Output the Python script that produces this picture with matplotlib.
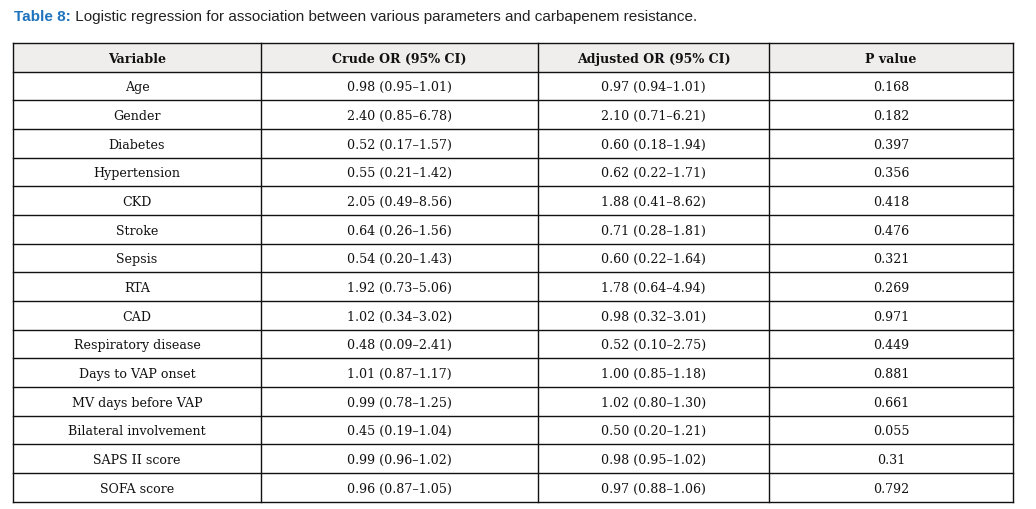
import matplotlib
matplotlib.use("Agg")
import matplotlib.pyplot as plt

title_bold = "Table 8:"
title_rest = " Logistic regression for association between various parameters and carbapenem resistance."

headers = ["Variable", "Crude OR (95% CI)", "Adjusted OR (95% CI)", "P value"]
variables = ["Age", "Gender", "Diabetes", "Hypertension", "CKD", "Stroke", "Sepsis", "RTA", "CAD",
             "Respiratory disease", "Days to VAP onset", "MV days before VAP", "Bilateral involvement",
             "SAPS II score", "SOFA score"]
crude_or = ["0.98 (0.95–1.01)", "2.40 (0.85–6.78)", "0.52 (0.17–1.57)", "0.55 (0.21–1.42)",
            "2.05 (0.49–8.56)", "0.64 (0.26–1.56)", "0.54 (0.20–1.43)", "1.92 (0.73–5.06)",
            "1.02 (0.34–3.02)", "0.48 (0.09–2.41)", "1.01 (0.87–1.17)", "0.99 (0.78–1.25)",
            "0.45 (0.19–1.04)", "0.99 (0.96–1.02)", "0.96 (0.87–1.05)"]
adjusted_or = ["0.97 (0.94–1.01)", "2.10 (0.71–6.21)", "0.60 (0.18–1.94)", "0.62 (0.22–1.71)",
               "1.88 (0.41–8.62)", "0.71 (0.28–1.81)", "0.60 (0.22–1.64)", "1.78 (0.64–4.94)",
               "0.98 (0.32–3.01)", "0.52 (0.10–2.75)", "1.00 (0.85–1.18)", "1.02 (0.80–1.30)",
               "0.50 (0.20–1.21)", "0.98 (0.95–1.02)", "0.97 (0.88–1.06)"]
p_values = ["0.168", "0.182", "0.397", "0.356", "0.418", "0.476", "0.321", "0.269", "0.971",
            "0.449", "0.881", "0.661", "0.055", "0.31", "0.792"]

W, H = 1036, 510
fig = plt.figure(figsize=(W / 100, H / 100), dpi=100)
ax = fig.add_axes([0, 0, 1, 1])
ax.set_xlim(0, W)
ax.set_ylim(H, 0)
ax.axis("off")

# title
serif = ["DejaVu Serif"]
tfs = 10.95
t1 = ax.text(14, 17, title_bold, fontsize=tfs, fontweight="bold", color="#1e73be",
             family="Liberation Sans", va="center", ha="left")
fig.canvas.draw()
bb = t1.get_window_extent()
x_end = bb.x1
ax.text(x_end, 17, title_rest, fontsize=tfs, color="#222222", family="Liberation Sans",
        va="center", ha="left", transform=matplotlib.transforms.blended_transform_factory(
            matplotlib.transforms.IdentityTransform(), ax.transData))

col_x = [13, 261, 538, 769, 1013]
top = 44
header_h = 28.5
row_h = 28.67
n = len(variables)
row_edges = [top, top + header_h] + [top + header_h + row_h * (i + 1) for i in range(n)]
bottom = row_edges[-1]

# header background
ax.fill_between([col_x[0], col_x[-1]], top, top + header_h, color="#f0eded", lw=0, zorder=0)

lw = 1.0
for y in row_edges:
    ax.plot([col_x[0], col_x[-1]], [y, y], color="#111111", lw=lw, solid_capstyle="projecting")
for x in col_x:
    ax.plot([x, x], [top, bottom], color="#111111", lw=lw, solid_capstyle="projecting")

fs = 9.1
centers = [(col_x[i] + col_x[i + 1]) / 2 for i in range(4)]
yh = top + header_h / 2
for c, h in zip(centers, headers):
    ax.text(c, yh + 1, h, ha="center", va="center", fontsize=fs, fontweight="bold",
            family=serif, color="#111111")

cols = [variables, crude_or, adjusted_or, p_values]
for i in range(n):
    yc = (row_edges[i + 1] + row_edges[i + 2]) / 2 + 1
    for c, col in zip(centers, cols):
        ax.text(c, yc, col[i], ha="center", va="center", fontsize=fs, family=serif,
                color="#111111")

fig.savefig("out.png", dpi=100, facecolor="white")
